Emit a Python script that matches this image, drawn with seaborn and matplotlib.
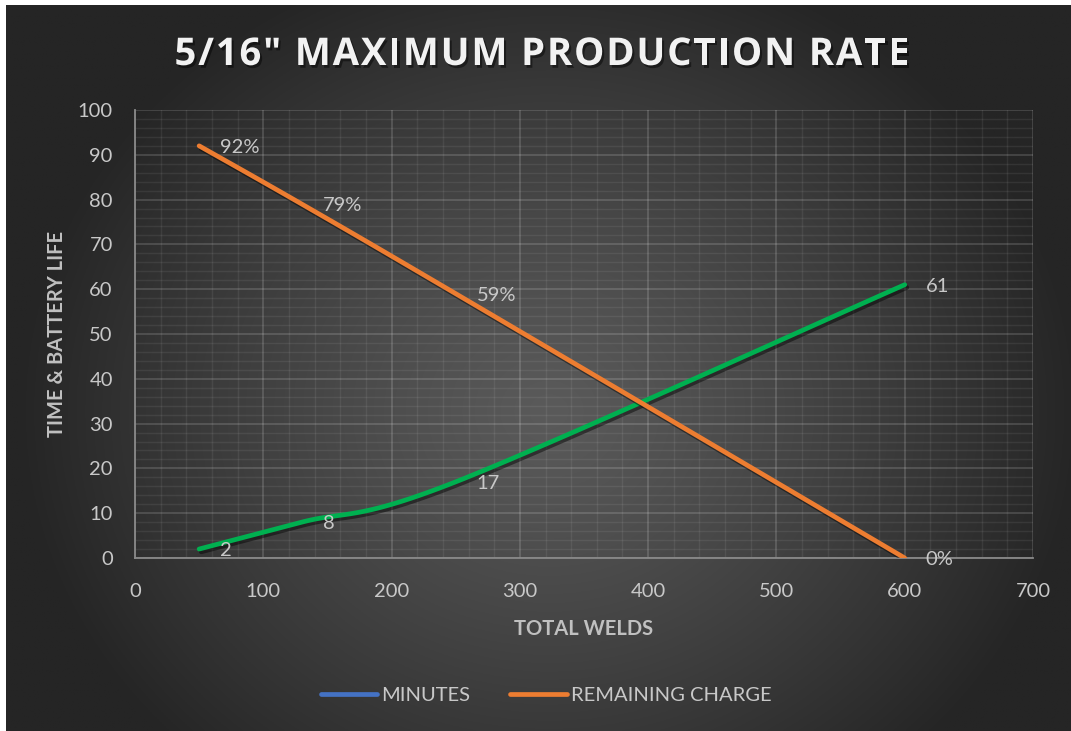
import numpy as np
import pandas as pd
import matplotlib
matplotlib.use("Agg")
import matplotlib.pyplot as plt
import matplotlib.patheffects as pe
from matplotlib.lines import Line2D
from matplotlib.font_manager import FontProperties, findfont
from matplotlib.ft2font import FT2Font
import seaborn as sns

# Welding run data
total_welds = [50, 130, 250, 600]
minutes = [2, 8, 17, 61]
remaining_charge = [92, 79, 59, 0]

series_names = ["MINUTES", "REMAINING CHARGE"]
x_ticks = [0, 100, 200, 300, 400, 500, 600, 700]
y_ticks = [0, 10, 20, 30, 40, 50, 60, 70, 80, 90, 100]
title = '5/16" MAXIMUM PRODUCTION RATE'

sns.set_theme(style="dark")
plt.rcParams["font.family"] = ["Lato", "DejaVu Sans"]

W, H = 1071, 731
fig = plt.figure(figsize=(W / 100, H / 100), dpi=100, facecolor="white")

# Dark radial gradient backdrop
bg = fig.add_axes([6 / W, 0, 1 - 6 / W, 1 - 5 / H], zorder=-10)
gx = np.linspace(-1, 1, 600)
gy = np.linspace(-1, 1, 420)
GX, GY = np.meshgrid(gx, gy)
cx, cy = 0.02, 0.12
r = np.sqrt(((GX - cx) / 1.0) ** 2 + ((GY - cy) / 1.3) ** 2)
r = np.clip(r, 0, 1)
c_in, c_out = 0x5a / 255, 0x25 / 255
img = c_in + (c_out - c_in) * r ** 1.2
bg.imshow(np.dstack([img, img, img]), aspect="auto", extent=[0, 1, 0, 1], origin="upper")
bg.set_axis_off()

ax = fig.add_axes([135 / W, 1 - 558 / H, (1033 - 135) / W, (558 - 110) / H])
ax.set_facecolor("none")


def smooth_path(xs, ys, steps=40):
    """Cardinal (Catmull-Rom) Bezier rendering of a smoothed line through the points."""
    p = np.column_stack([xs, ys]).astype(float)
    ext = np.vstack([p[0], p, p[-1]])
    out = [p[0]]
    t = np.linspace(0, 1, steps)[1:, None]
    for i in range(len(p) - 1):
        p0, p1, p2, p3 = ext[i], ext[i + 1], ext[i + 2], ext[i + 3]
        c1 = p1 + (p2 - p0) / 6
        c2 = p2 - (p3 - p1) / 6
        seg = ((1 - t) ** 3) * p1 + 3 * ((1 - t) ** 2) * t * c1 + 3 * (1 - t) * t ** 2 * c2 + t ** 3 * p2
        out.extend(seg)
    out = np.array(out)
    return out[:, 0], out[:, 1]


frames = []
for name, vals in zip(series_names, [minutes, remaining_charge]):
    sx, sy = smooth_path(total_welds, vals)
    frames.append(pd.DataFrame({"welds": sx, "value": sy, "series": name}))
df = pd.concat(frames, ignore_index=True)

line_colors = {"MINUTES": "#00B050", "REMAINING CHARGE": "#ED7D31"}
sns.lineplot(data=df, x="welds", y="value", hue="series", palette=line_colors,
             estimator=None, sort=False, linewidth=3.4, legend=False, ax=ax,
             zorder=5)
for ln in ax.lines:
    ln.set_solid_capstyle("round")
    ln.set_solid_joinstyle("round")
    ln.set_path_effects([pe.SimpleLineShadow(offset=(1.5, -2), alpha=0.45, shadow_color="black"),
                         pe.Normal()])

ax.set_xlim(0, 700)
ax.set_ylim(0, 100)
ax.set_xticks(x_ticks)
ax.set_yticks(y_ticks)
ax.set_xticks(np.arange(0, 701, 20), minor=True)
ax.set_yticks(np.arange(0, 101, 2), minor=True)
ax.grid(True, which="major", color="white", alpha=0.17, linewidth=1.2)
ax.grid(True, which="minor", color="white", alpha=0.07, linewidth=1.0)
ax.set_axisbelow(True)

for side in ["top", "right"]:
    ax.spines[side].set_visible(False)
for side in ["left", "bottom"]:
    ax.spines[side].set_visible(True)
    ax.spines[side].set_color("#8a8a8a")
    ax.spines[side].set_linewidth(1.3)

tick_color = "#C8C8C8"
ax.tick_params(axis="both", which="both", length=0, labelsize=14.5, labelcolor=tick_color)
ax.tick_params(axis="x", pad=18)
ax.tick_params(axis="y", pad=16)

ax.set_xlabel("TOTAL WELDS", fontsize=14.5, fontweight="bold", color="#C0C0C0", labelpad=14)
ax.set_ylabel("TIME & BATTERY LIFE", fontsize=14.5, fontweight="bold", color="#C0C0C0", labelpad=8)

# Data labels to the right of each point
for xv, yv in zip(total_welds, minutes):
    ax.annotate(f"{yv}", (xv, yv), xytext=(15, -1), textcoords="offset points",
                ha="left", va="center", fontsize=14.5, color=tick_color, zorder=6)
for xv, yv in zip(total_welds, remaining_charge):
    ax.annotate(f"{yv}%", (xv, yv), xytext=(15, -1), textcoords="offset points",
                ha="left", va="center", fontsize=14.5, color=tick_color, zorder=6)

# Letter-spaced title
title_size = 27.5
title_prop = FontProperties(family="Open Sans", weight="bold", size=title_size)
ft = FT2Font(findfont(title_prop))
ft.set_size(title_size, 72)
advances = []
for ch in title:
    g = ft.load_char(ord(ch))
    advances.append(g.linearHoriAdvance / 65536.0 * 100 / 72)  # pixels
target_w = 735.0
track = (target_w - sum(advances)) / (len(title) - 1)
x_px = 542 - target_w / 2
baseline = 1 - 65 / H
shadow = [pe.SimplePatchShadow(offset=(1.5, -2), alpha=0.45, shadow_rgbFace="black"), pe.Normal()]
for ch, adv in zip(title, advances):
    if ch != " ":
        fig.text(x_px / W, baseline, ch, ha="left", va="baseline", fontproperties=title_prop,
                 color="#F2F2F2", path_effects=shadow)
    x_px += adv + track

handles = [Line2D([0], [0], color="#4472C4", lw=3.4, solid_capstyle="round"),
           Line2D([0], [0], color="#ED7D31", lw=3.4, solid_capstyle="round")]
leg = fig.legend(handles, series_names, loc="center", bbox_to_anchor=(546 / W, 1 - 695 / H),
                 ncol=2, frameon=False, fontsize=14.5, handlelength=2.8, handletextpad=0.2,
                 columnspacing=2.0)
for t in leg.get_texts():
    t.set_color(tick_color)

fig.savefig("out.png", dpi=100, facecolor="white")
